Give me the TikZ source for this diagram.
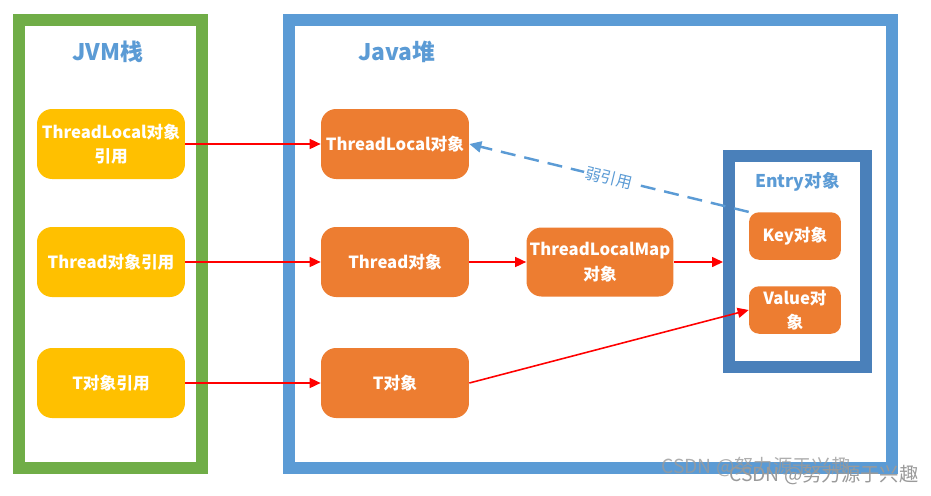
\documentclass[tikz,border=0pt]{standalone}
\usepackage{fontspec}
\setmainfont{Noto Sans CJK SC}
\usetikzlibrary{arrows.meta}
\definecolor{jgreen}{HTML}{70AD47}
\definecolor{jblue}{HTML}{5B9BD5}
\definecolor{jentry}{HTML}{4A80BA}
\definecolor{jyellow}{HTML}{FFC000}
\definecolor{jorange}{HTML}{ED7D31}
\definecolor{jred}{HTML}{FF0000}
\definecolor{wmgray}{HTML}{9A9A9A}
\begin{document}
\begin{tikzpicture}[x=0.02cm,y=-0.02cm,
  frame/.style={draw, line width=0.24cm, inner sep=0pt},
  ybox/.style={fill=jyellow, rounded corners=0.3cm, text=white,
    font=\bfseries\fontsize{9.5}{14}\selectfont, align=center,
    minimum width=2.96cm, minimum height=1.4cm, inner sep=0pt},
  obox/.style={ybox, fill=jorange},
  sbox/.style={obox, minimum width=1.84cm, minimum height=0.95cm, rounded corners=0.2cm},
  title/.style={text=jblue, font=\bfseries\fontsize{13}{15}\selectfont},
  refarrow/.style={draw=jred, line width=0.9pt, -{Triangle[length=0.22cm,width=0.2cm]}},
  weakarrow/.style={draw=jblue, line width=1.4pt, dash pattern=on 0.3cm off 0.18cm,
    -{Triangle[length=0.24cm,width=0.22cm]}},
  wmark/.style={text=wmgray, font=\fontsize{11}{12}\selectfont, anchor=west}
]
\path[use as bounding box] (0,0) rectangle (931,495);
% containers
\node[frame, draw=jgreen, minimum width=3.67cm, minimum height=8.97cm] (jvm) at (110.75,243.75) {};
\node[frame, draw=jblue, minimum width=12.06cm, minimum height=8.97cm] (heap) at (590.5,243.75) {};
\node[title] (jvmt) at (108,52) {JVM栈};
\node[title] (heapt) at (397,52) {Java堆};
% stack refs
\node[ybox] (ytl) at (111,144) {ThreadLocal对象\\引用};
\node[ybox] (yth) at (111,262) {Thread对象引用};
\node[ybox] (yt) at (111,383) {T对象引用};
% heap objects
\node[obox] (otl) at (395,144) {ThreadLocal对象};
\node[obox] (oth) at (395,262) {Thread对象};
\node[obox] (ot) at (395,383) {T对象};
\node[obox, minimum width=2.94cm, minimum height=1.38cm] (omap) at (600,262) {ThreadLocalMap\\对象};
\node[frame, draw=jentry, minimum width=2.74cm, minimum height=4.23cm] (entry) at (797.5,261.25) {};
\node[text=jblue, font=\bfseries\fontsize{10}{12}\selectfont] (entryt) at (797.5,182) {Entry对象};
\node[sbox] (key) at (795,236) {Key对象};
\node[sbox, font=\bfseries\fontsize{9.5}{13.5}\selectfont] (val) at (795,310) {Value对\\象};
% connectors
\draw[refarrow] (ytl.east) -- (otl.west);
\draw[refarrow] (yth.east) -- (oth.west);
\draw[refarrow] (yt.east) -- (ot.west);
\draw[refarrow] (oth.east) -- (omap.west);
\draw[refarrow] (omap.east) -- (omap.east -| entry.west);
\draw[refarrow] (ot.east) -- (val.west);
\draw[weakarrow] (key.north west) -- node[sloped, fill=white, inner sep=1pt, text=jblue,
  font=\fontsize{9}{10}\selectfont] (weaklbl) {弱引用} (otl.east);
% watermark
\node[wmark, opacity=0.8] (wm1) at (655,467) {CSDN @努力源于兴趣};
\node[wmark] (wm2) at (723,475) {CSDN @努力源于兴趣};
\end{tikzpicture}
\end{document}
